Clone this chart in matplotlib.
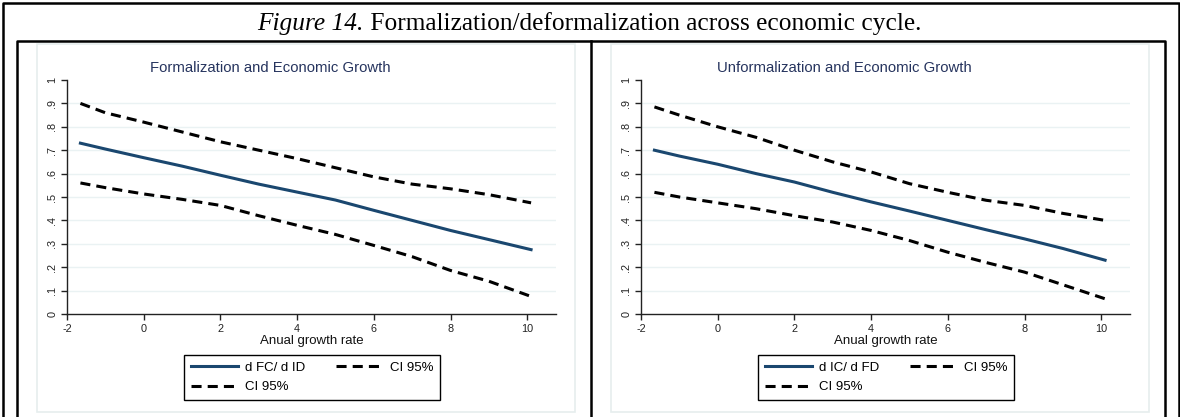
import matplotlib
matplotlib.use("Agg")
from matplotlib import pyplot as plt
from matplotlib.patches import Rectangle
from matplotlib.lines import Line2D

# growth-rate points where the margins were evaluated
growth = [-1.65, -1, 0, 1, 2, 3, 4, 5, 6, 7, 8, 9, 10.1]

# formalization: d FC / d ID with 95% bands
form_est = [0.73, 0.705, 0.668, 0.632, 0.593, 0.555, 0.521, 0.487, 0.443, 0.400, 0.357, 0.318, 0.275]
form_hi = [0.90, 0.86, 0.82, 0.778, 0.736, 0.70, 0.664, 0.625, 0.586, 0.555, 0.535, 0.51, 0.475]
form_lo = [0.56, 0.54, 0.513, 0.49, 0.464, 0.42, 0.379, 0.34, 0.293, 0.245, 0.186, 0.14, 0.075]

# unformalization: d IC / d FD with 95% bands
unform_est = [0.70, 0.675, 0.64, 0.60, 0.564, 0.52, 0.479, 0.44, 0.40, 0.36, 0.321, 0.28, 0.23]
unform_hi = [0.885, 0.85, 0.80, 0.755, 0.70, 0.65, 0.607, 0.557, 0.52, 0.486, 0.464, 0.43, 0.40]
unform_lo = [0.52, 0.50, 0.475, 0.45, 0.42, 0.393, 0.357, 0.314, 0.264, 0.22, 0.179, 0.125, 0.065]

panel_titles = ["Formalization and Economic Growth", "Unformalization and Economic Growth"]
est_labels = ["d FC/ d ID", "d IC/ d FD"]
xticks = [-2, 0, 2, 4, 6, 8, 10]
yticks = [0, 0.1, 0.2, 0.3, 0.4, 0.5, 0.6, 0.7, 0.8, 0.9, 1]
ytick_labels = ["0", ".1", ".2", ".3", ".4", ".5", ".6", ".7", ".8", ".9", "1"]

W, H = 1180, 417
plt.rcParams["font.family"] = ["Liberation Sans", "DejaVu Sans"]
fig = plt.figure(figsize=(W / 100, H / 100), dpi=100)

navy = "#1a476f"
dash = (3.3, 2.0)


def px_rect(x0, y0, x1, y1):
    # pixel box (top-left origin) -> figure fraction [left, bottom, width, height]
    return [x0 / W, 1 - y1 / H, (x1 - x0) / W, (y1 - y0) / H]


def frame_line(xs, ys, lw=1.8, color="black"):
    fig.add_artist(Line2D([x / W for x in xs], [1 - y / H for y in ys],
                          transform=fig.transFigure, color=color, lw=lw))


# document frame around the figure
frame_line([2.5, 2.5, 1178.5, 1178.5], [H + 5, 2.5, 2.5, H + 5])
frame_line([17, 17, 1165, 1165], [H + 5, 40.5, 40.5, H + 5])
frame_line([591, 591], [40.5, H + 5])

# caption: italic figure number then regular text
split_x = 364 / W
fig.text(split_x, 1 - 30 / H, "Figure 14.", ha="right", va="baseline",
         family="Liberation Serif", style="italic", fontsize=18.3)
fig.text(split_x, 1 - 30 / H, " Formalization/deformalization across economic cycle.",
         ha="left", va="baseline", family="Liberation Serif", fontsize=18.3)

panels = [
    (37, form_est, form_hi, form_lo),
    (611, unform_est, unform_hi, unform_lo),
]

for i, (fx, est, hi, lo) in enumerate(panels):
    # light graph-region border
    l, b, w, h = px_rect(fx, 44, fx + 538, 412)
    fig.add_artist(Rectangle((l, b), w, h, transform=fig.transFigure,
                             fill=False, ec="#e6eeee", lw=1.2))

    ax = fig.add_axes(px_rect(fx + 30, 80, fx + 519, 314))
    ax.set_xlim(-2, 10.75)
    ax.set_ylim(0, 1)

    for y in yticks[1:-1]:
        ax.axhline(y, color="#eaf2f3", lw=1, zorder=0)

    l_est, = ax.plot(growth, est, color=navy, lw=2.2)
    l_hi, = ax.plot(growth, hi, color="black", lw=2.2, dashes=dash)
    l_lo, = ax.plot(growth, lo, color="black", lw=2.2, dashes=dash)

    ax.spines["top"].set_visible(False)
    ax.spines["right"].set_visible(False)
    for s in ("left", "bottom"):
        ax.spines[s].set_color("#222222")
        ax.spines[s].set_linewidth(1.0)

    ax.set_xticks(xticks)
    ax.set_xticklabels([str(t) for t in xticks])
    ax.set_yticks(yticks)
    ax.set_yticklabels(ytick_labels, rotation=90, va="center")
    ax.tick_params(axis="both", direction="out", length=4, width=1,
                   color="#222222", labelsize=7.8, labelcolor="#222222", pad=3)

    ax.set_xlabel("Anual growth rate", fontsize=9.5, color="#111111", labelpad=1)

    ax.text((233 - 30) / 489, 1 + 12 / 234, panel_titles[i], transform=ax.transAxes,
            ha="center", va="center", fontsize=10.7, color="#26345e")

    leg = ax.legend([l_est, l_lo, l_hi], [est_labels[i], "CI 95%", "CI 95%"],
                    ncol=2, loc="upper center",
                    bbox_to_anchor=((275 - 30) / 489, -41 / 234),
                    borderaxespad=0, fancybox=False, framealpha=1,
                    edgecolor="black", fontsize=9.5, handlelength=3.6,
                    columnspacing=2.3, handletextpad=0.5, labelspacing=0.55,
                    borderpad=0.5)
    leg.get_frame().set_linewidth(1.0)

fig.savefig("out.png", dpi=100)
